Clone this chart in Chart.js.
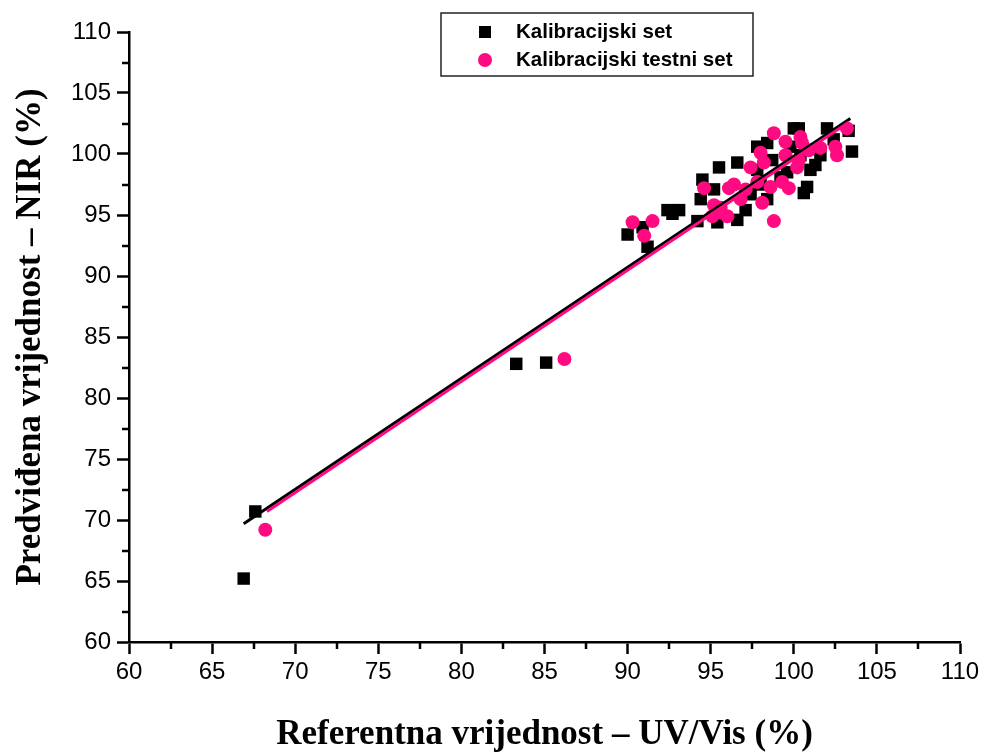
<!DOCTYPE html>
<html>
<head>
<meta charset="utf-8">
<script src="https://cdn.jsdelivr.net/npm/chart.js@4.4.1/dist/chart.umd.min.js"></script>
<style>
html,body{margin:0;padding:0;background:#fff;}
#wrap{width:984px;height:753px;position:relative;}
</style>
</head>
<body>
<div id="wrap"><canvas id="c" width="984" height="753"></canvas></div>
<script>
// ---- data ----
const calibX = [66.9,67.6,83.3,85.1,90.0,90.9,91.2,92.4,93.1,92.7,94.2,94.4,94.5,95.2,95.5,95.4,96.6,96.6,97.1,97.4,97.8,98.4,98.4,98.0,98.7,99.6,99.8,100.0,100.3,100.4,100.6,100.8,101.0,101.3,101.6,102.0,102.4,103.3,103.5,99.2,97.8];
const calibY = [65.2,70.7,82.8,82.9,93.4,94.0,92.4,95.4,95.4,95.1,94.5,96.3,97.9,97.1,98.9,94.4,99.3,94.6,95.4,96.7,100.6,100.9,96.3,97.5,99.5,98.5,100.6,102.1,102.1,99.9,96.8,97.3,98.7,99.1,99.9,102.1,101.2,101.9,100.2,98.1,98.7];
const testX = [68.2,86.2,90.3,91.0,91.5,94.6,95.2,95.1,95.6,96.0,96.1,96.4,97.1,97.4,97.8,98.0,98.2,98.1,98.6,98.8,98.8,99.3,99.5,99.5,99.7,100.2,100.3,100.4,100.5,100.9,101.6,102.5,102.6,103.2,96.8,95.6];
const testY = [69.2,83.2,94.4,93.3,94.5,97.2,95.8,94.9,95.2,94.9,97.2,97.5,97.1,98.9,97.7,100.1,99.3,96.0,97.3,94.5,101.7,97.7,101.0,99.9,97.2,98.9,99.5,101.4,100.9,100.3,100.5,100.6,99.9,102.1,96.3,95.6];
const calibFitX = [66.9,103.4];
const calibFitY = [69.7,102.9];
const testFitX = [68.3,103.3];
const testFitY = [70.7,102.6];
const xTicks = [60,65,70,75,80,85,90,95,100,105,110];
const yTicks = [60,65,70,75,80,85,90,95,100,105,110];
const minorTicks = [62.5,67.5,72.5,77.5,82.5,87.5,92.5,97.5,102.5,107.5];
const seriesNames = ['Kalibracijski set','Kalibracijski testni set'];
const xTitle = 'Referentna vrijednost \u2013 UV/Vis (%)';
const yTitle = 'Predvi\u0111ena vrijednost \u2013 NIR (%)';

const BLACK = '#000000';
const PINK = '#ff0a80';

const zip = (xs, ys) => xs.map((x, i) => ({x: x, y: ys[i]}));

const minorPlugin = {
  id: 'minor',
  afterDraw(chart) {
    const ctx = chart.ctx;
    const xs = chart.scales.x, ys = chart.scales.y;
    const ca = chart.chartArea;
    ctx.save();
    ctx.strokeStyle = '#000';
    ctx.lineWidth = 2.5;
    minorTicks.forEach(v => {
      const px = Math.round(xs.getPixelForValue(v));
      ctx.beginPath(); ctx.moveTo(px, ca.bottom); ctx.lineTo(px, ca.bottom + 7); ctx.stroke();
      const py = Math.round(ys.getPixelForValue(v));
      ctx.beginPath(); ctx.moveTo(ca.left, py); ctx.lineTo(ca.left - 7, py); ctx.stroke();
    });
    // legend
    const L = 441, T = 13, W = 312, H = 63;
    ctx.lineWidth = 1.5;
    ctx.strokeStyle = '#222';
    ctx.strokeRect(L, T, W, H);
    ctx.fillStyle = BLACK;
    ctx.fillRect(485 - 6, 32 - 6, 12, 12);
    ctx.fillStyle = PINK;
    ctx.beginPath(); ctx.arc(485, 60, 7, 0, Math.PI * 2); ctx.fill();
    ctx.fillStyle = '#000';
    ctx.font = 'bold 20.5px "Liberation Sans", Arial, sans-serif';
    ctx.textBaseline = 'middle';
    ctx.textAlign = 'left';
    ctx.fillText(seriesNames[0], 516, 32);
    ctx.fillText(seriesNames[1], 516, 60);
    ctx.restore();
  }
};

new Chart(document.getElementById('c'), {
  type: 'scatter',
  data: {
    datasets: [
      {label: seriesNames[1] + ' fit', type: 'line', data: zip(testFitX, testFitY), borderColor: PINK, borderWidth: 3, pointRadius: 0, fill: false, order: 0},
      {label: seriesNames[0] + ' fit', type: 'line', data: zip(calibFitX, calibFitY), borderColor: BLACK, borderWidth: 3, pointRadius: 0, fill: false, order: 1},
      {label: seriesNames[1], data: zip(testX, testY), pointStyle: 'circle', pointRadius: 7, backgroundColor: PINK, borderWidth: 0, order: 2},
      {label: seriesNames[0], data: zip(calibX, calibY), pointStyle: 'rect', pointRadius: 8.8, backgroundColor: BLACK, borderWidth: 0, order: 3}
    ]
  },
  options: {
    responsive: false,
    animation: false,
    layout: {padding: {left: 0, top: 32, right: 24, bottom: 0}},
    plugins: {legend: {display: false}, tooltip: {enabled: false}},
    scales: {
      x: {
        type: 'linear', min: 60, max: 110,
        afterBuildTicks: s => { s.ticks = xTicks.map(v => ({value: v})); },
        afterFit: s => { s.height = 111; },
        grid: {display: true, drawOnChartArea: false, drawTicks: true, tickLength: 12, tickColor: '#000', tickWidth: 2.5},
        border: {display: true, color: '#000', width: 2.5},
        ticks: {color: '#000', font: {family: '"Liberation Sans", Arial, sans-serif', size: 24}, padding: 4, maxRotation: 0},
        title: {display: true, text: xTitle, color: '#000', font: {family: '"Liberation Serif", "Times New Roman", serif', size: 35, weight: 'bold'}, padding: {top: 0, bottom: -3}}
      },
      y: {
        type: 'linear', min: 60, max: 110,
        afterBuildTicks: s => { s.ticks = yTicks.map(v => ({value: v})); },
        afterFit: s => { s.width = 129; },
        grid: {display: true, drawOnChartArea: false, drawTicks: true, tickLength: 12, tickColor: '#000', tickWidth: 2.5},
        border: {display: true, color: '#000', width: 2.5},
        ticks: {color: '#000', font: {family: '"Liberation Sans", Arial, sans-serif', size: 24}, padding: 6},
        title: {display: true, text: yTitle, color: '#000', font: {family: '"Liberation Serif", "Times New Roman", serif', size: 35, weight: 'bold'}, padding: {top: 10, bottom: 0}}
      }
    }
  },
  plugins: [minorPlugin]
});
</script>
</body>
</html>
